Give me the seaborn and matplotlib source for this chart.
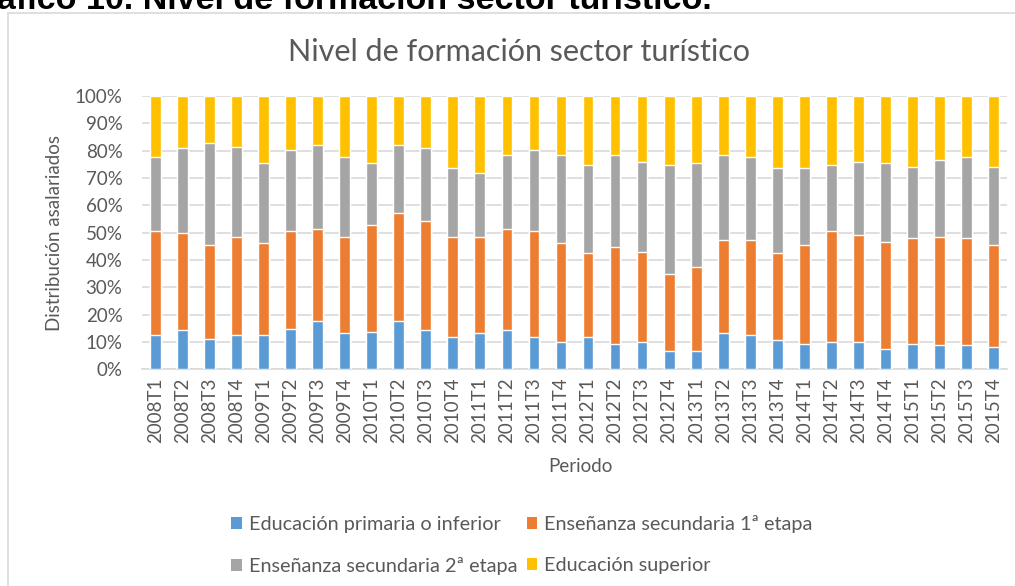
import matplotlib
matplotlib.use("Agg")
import matplotlib.pyplot as plt
from matplotlib.patches import Patch, Rectangle
import seaborn as sns
import pandas as pd
import numpy as np

periods = [f"{y}T{q}" for y in range(2008, 2016) for q in range(1, 5)]

# shares (%), one value per quarter
primaria = [12.4, 14.4, 11.2, 12.4, 12.4, 14.9, 17.6, 13.2,
            13.7, 17.6, 14.4, 11.7, 13.2, 14.4, 11.7, 10.0,
            11.7, 9.3, 10.0, 6.8, 6.8, 13.2, 12.4, 10.7,
            9.3, 10.0, 10.0, 7.6, 9.3, 8.8, 8.8, 8.0]
secundaria1 = [38.1, 35.4, 34.3, 36.1, 33.7, 35.6, 33.6, 35.3,
               39.2, 39.7, 39.7, 36.8, 35.3, 36.8, 38.8, 36.1,
               30.7, 35.6, 32.9, 28.1, 30.5, 34.1, 34.9, 31.7,
               36.2, 40.5, 39.3, 39.1, 38.6, 39.7, 39.1, 37.5]
secundaria2 = [27.3, 31.2, 37.4, 33.0, 29.3, 29.7, 31.0, 29.3,
               22.5, 24.9, 26.9, 25.0, 23.2, 27.3, 29.7, 32.4,
               32.2, 33.6, 33.1, 39.7, 38.1, 31.2, 30.5, 31.1,
               28.0, 24.1, 26.7, 28.7, 26.2, 28.1, 29.9, 28.6]
superior = [round(100 - a - b - c, 1) for a, b, c in zip(primaria, secundaria1, secundaria2)]

labels = ["Educación primaria o inferior", "Enseñanza secundaria 1ª etapa",
          "Enseñanza secundaria 2ª etapa", "Educación superior"]
colors = ["#5B9BD5", "#ED7D31", "#A5A5A5", "#FFC000"]
text_color = "#595959"

df = pd.DataFrame({"periodo": periods, labels[0]: primaria, labels[1]: secundaria1,
                   labels[2]: secundaria2, labels[3]: superior})
cum = df[labels].cumsum(axis=1)

sns.set_theme(style="white")
plt.rcParams["font.family"] = ["Lato", "DejaVu Sans"]

W, H = 1015, 586
fig = plt.figure(figsize=(W / 100, H / 100), dpi=100)
fig.patch.set_facecolor("white")

# chart border
fig.patches.append(Rectangle((8 / W, -0.1), 1.2, 1.1 - 13 / H, transform=fig.transFigure,
                             fill=False, edgecolor="#D9D9D9", linewidth=1.2))

left, right, top, bottom = 142, 1007, 96, 369.3
ax = fig.add_axes([left / W, 1 - bottom / H, (right - left) / W, (bottom - top) / H])

# stacked bars: draw cumulative totals from the top segment down
for lab, col in reversed(list(zip(labels, colors))):
    sns.barplot(x=df["periodo"], y=cum[lab], color=col, saturation=1, width=0.4, ax=ax, zorder=3)

ax.set_xlim(-0.5, len(periods) - 0.5)
ax.set_ylim(0, 100)
ax.set_yticks(np.arange(0, 101, 10))
ax.set_yticklabels([f"{v}%" for v in range(0, 101, 10)])
ax.yaxis.grid(True, color="#D9D9D9", linewidth=1.2, zorder=0)
ax.xaxis.grid(False)
for s in ["top", "right", "left"]:
    ax.spines[s].set_visible(False)
ax.spines["bottom"].set_color("#D9D9D9")
ax.spines["bottom"].set_linewidth(1.2)
ax.tick_params(axis="both", length=0, labelsize=13.5, colors=text_color)
ax.tick_params(axis="y", pad=14)
ax.tick_params(axis="x", pad=6, rotation=90)

ax.set_ylabel("Distribución asalariados", fontsize=13.5, color=text_color)
ax.yaxis.set_label_coords((55 - left) / (right - left), 0.5)
ax.yaxis.label.set_va("center")
ax.set_xlabel("Periodo", fontsize=13.5, color=text_color)
ax.xaxis.set_label_coords((580 - left) / (right - left), (bottom - 466) / (bottom - top))
ax.xaxis.label.set_va("center")

fig.text(519 / W, 1 - 61 / H, "Nivel de formación sector turístico", ha="center", va="baseline",
         fontsize=22, color=text_color)
fig.text(-0.003, 1 - 9 / H, "áfico 10. Nivel de formación sector turístico.", ha="left",
         va="baseline", fontsize=24.5, fontweight="bold", color="black",
         family=["Liberation Sans", "DejaVu Sans"])

handles = [Patch(facecolor=c, edgecolor="none") for c in colors]
order = [0, 2, 1, 3]
fig.legend([handles[i] for i in order], [labels[i] for i in order], ncol=2,
           loc="center", bbox_to_anchor=(522 / W, 1 - 545 / H), frameon=False,
           fontsize=14.3, labelcolor=text_color, handlelength=0.55, handleheight=0.55,
           handletextpad=0.35, columnspacing=0.45, labelspacing=1.2)

fig.savefig("out.png", dpi=100)
